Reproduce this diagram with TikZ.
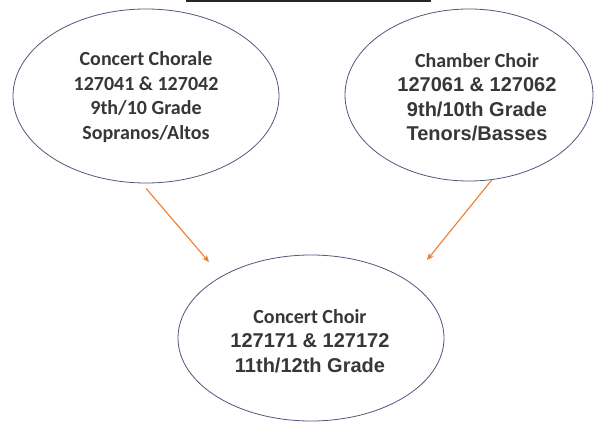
\documentclass[tikz,border=0pt]{standalone}
\usepackage{fontspec}
\setmainfont{Carlito}
\newfontfamily\arialb{Liberation Sans}
\usetikzlibrary{shapes.geometric,arrows.meta}
\definecolor{ellline}{RGB}{78,90,125}
\definecolor{arrorange}{RGB}{237,125,49}
\definecolor{txtgray}{RGB}{55,55,55}
\tikzset{
  choir/.style={draw=ellline, line width=0.8pt, ellipse, inner sep=0pt},
  lbl/.style={align=center, text=txtgray, font=\fontsize{20}{24.5}\selectfont\bfseries, inner sep=0pt},
  feed/.style={draw=arrorange, line width=1.1pt, -{Stealth[length=7pt,width=6pt]}}
}
\begin{document}
\begin{tikzpicture}[x=1pt,y=-1pt]
\useasboundingbox (0,0) rectangle (595,422);
\fill[white] (0,0) rectangle (595,422);
\fill[black!85] (186,0) rectangle (431,2.5);
\node[choir, minimum width=266pt, minimum height=174pt] (chorale) at (146,96) {};
\node[choir, minimum width=248pt, minimum height=172pt] (chamber) at (469,95) {};
\node[choir, minimum width=266pt, minimum height=166pt] (concert) at (311,338) {};
\node[lbl] (choraletxt) at (146,97) {Concert Chorale\\127041 \& 127042\\9th/10 Grade\\Sopranos/Altos};
\node[lbl] (chambertxt) at (477,97) {Chamber Choir\\{\arialb 127061 \& 127062}\\{\arialb 9th/10th Grade}\\{\arialb Tenors/Basses}};
\node[lbl] (concerttxt) at (310,341) {Concert Choir\\{\arialb 127171 \& 127172}\\{\arialb 11th/12th Grade}};
\coordinate (t1) at (209,262);
\coordinate (t2) at (427,260);
\draw[feed] ([yshift=-5pt]chorale.south) -- (t1);
\draw[feed] (chamber.-75) -- (t2);
\end{tikzpicture}
\end{document}
